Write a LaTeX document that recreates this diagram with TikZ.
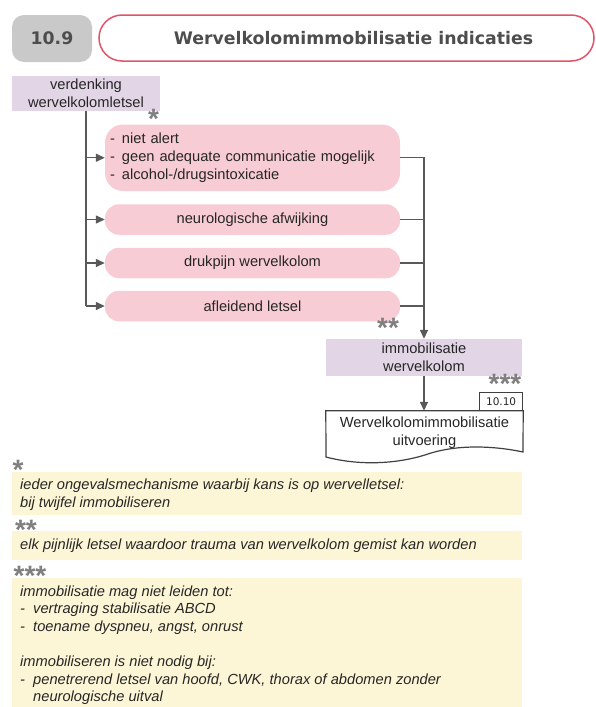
\documentclass[tikz,border=0pt]{standalone}
\usepackage{fontspec}
\setmainfont{Liberation Sans}
\newfontfamily\verd{DejaVu Sans}
\usetikzlibrary{arrows.meta}
\definecolor{pinkfill}{HTML}{F8CCD4}
\definecolor{lavfill}{HTML}{E2D6E6}
\definecolor{notefill}{HTML}{FDF6D6}
\definecolor{grayfill}{HTML}{C9C9C9}
\definecolor{redc}{HTML}{DF5468}
\definecolor{linec}{HTML}{595959}
\definecolor{txt}{HTML}{262626}
\definecolor{titletxt}{HTML}{4D4D4D}
\definecolor{starc}{HTML}{7F7F7F}
\newcommand\starmark[1]{\raisebox{0pt}[\height][-10.5pt]{#1}}
\begin{document}
\begin{tikzpicture}[x=1pt,y=-1pt,
  base/.style={inner sep=0pt, font=\fontsize{14.67}{17.6}\selectfont, text=txt},
  pinkbox/.style={base, fill=pinkfill, rounded corners=14pt, minimum width=295pt, minimum height=30.5pt},
  lavbox/.style={base, fill=lavfill, align=center},
  notebox/.style={fill=notefill, inner sep=0pt, minimum width=510pt},
  notetext/.style={base, anchor=west, align=left, font=\fontsize{14.67}{17.6}\selectfont\itshape},
  conn/.style={draw=linec, line width=1.4pt},
  arr/.style={conn, -{Triangle[length=9pt,width=8pt]}},
  star/.style={inner sep=0pt, anchor=north, text=starc, font=\fontsize{28}{28}\bfseries\selectfont}
]
\useasboundingbox (0,0) rectangle (596,707);
% header
\node[fill=grayfill, rounded corners=12pt, minimum width=80pt, minimum height=47pt,
  font=\verd\bfseries\fontsize{17.3}{20}\selectfont, text=titletxt] (num) at (52,38.5) {10.9};
\node[draw=redc, line width=1.5pt, rounded corners=23pt, minimum width=495pt, minimum height=46pt] (title) at (346.5,38) {};
\node[font=\verd\bfseries\fontsize{17.3}{20}\selectfont, text=titletxt, inner sep=0pt] (titletext) at (353.5,38) {Wervelkolomimmobilisatie indicaties};
% start
\node[lavbox, minimum width=148pt, minimum height=35pt] (verd) at (86,93.5) {verdenking\\wervelkolomletsel};
\node[star] (s1) at (153.5,109) {\starmark{*}};
% criteria
\node[base, fill=pinkfill, rounded corners=18pt, minimum width=295pt, minimum height=66.5pt,
  text width=285pt, align=left, inner xsep=5pt] (b1) at (252.5,157.75)
  {\makebox[12pt][l]{-}niet alert\\\makebox[12pt][l]{-}geen adequate communicatie mogelijk\\\makebox[12pt][l]{-}alcohol-/drugsintoxicatie};
\node[pinkbox] (b2) at (252.5,219.5) {neurologische afwijking};
\node[pinkbox] (b3) at (252.5,263) {drukpijn wervelkolom};
\node[pinkbox] (b4) at (252.5,306) {afleidend letsel};
\node[star] (s2) at (388,318) {\starmark{**}};
% immobilisation
\node[lavbox, minimum width=196pt, minimum height=37pt] (immob) at (424,357.5) {immobilisatie\\wervelkolom};
\node[star] (s3) at (505,374) {\starmark{***}};
% document
\node[base, align=center, minimum width=197pt, minimum height=43pt] (doc) at (424.5,432.5) {Wervelkolomimmobilisatie\\uitvoering};
\draw[draw=black!75, line width=1.2pt] (doc.north west) -- (doc.north east) -- (523,452)
  .. controls (495,446) and (458,444) .. (428,454)
  .. controls (398,464) and (360,466) .. (326,457) -- cycle;
\node[draw=black!75, line width=1.1pt, minimum width=43pt, minimum height=17.5pt, inner sep=0pt,
  anchor=south east, font=\verd\fontsize{10.5}{12}\selectfont, text=txt] (ref) at (doc.north east) {10.10};
% connectors
\draw[conn] (verd.south) -- (verd.south |- b4.west);
\draw[arr] (verd.south |- b1.west) -- (b1.west);
\draw[arr] (verd.south |- b2.west) -- (b2.west);
\draw[arr] (verd.south |- b3.west) -- (b3.west);
\draw[arr] (verd.south |- b4.west) -- (b4.west);
\draw[arr] (b1.east) -| (immob.north);
\draw[conn] (b2.east) -- (b2.east -| immob.north);
\draw[conn] (b3.east) -- (b3.east -| immob.north);
\draw[conn] (b4.east) -- (b4.east -| immob.north);
\draw[arr] (immob.south) -- (doc.north -| immob.south);
% notes
\node[star] (f1) at (18,460) {\starmark{*}};
\node[notebox, minimum height=43pt] (n1) at (267,493.5) {};
\node[notetext] (t1) at (20,494.5) {ieder ongevalsmechanisme waarbij kans is op wervelletsel:\\bij twijfel immobiliseren};
\node[star] (f2) at (26,520) {\starmark{**}};
\node[notebox, minimum height=29pt] (n2) at (267,545.5) {};
\node[notetext] (t2) at (20,545.5) {elk pijnlijk letsel waardoor trauma van wervelkolom gemist kan worden};
\node[star] (f3) at (30,566) {\starmark{***}};
\node[notebox, minimum height=129pt] (n3) at (267,642.5) {};
\node[notetext] (t3) at (20,645) {immobilisatie mag niet leiden tot:\\
  \makebox[13pt][l]{-}vertraging stabilisatie ABCD\\
  \makebox[13pt][l]{-}toename dyspneu, angst, onrust\\[17.6pt]
  immobiliseren is niet nodig bij:\\
  \makebox[13pt][l]{-}penetrerend letsel van hoofd, CWK, thorax of abdomen zonder\\
  \hspace*{13pt}neurologische uitval};
\end{tikzpicture}
\end{document}
